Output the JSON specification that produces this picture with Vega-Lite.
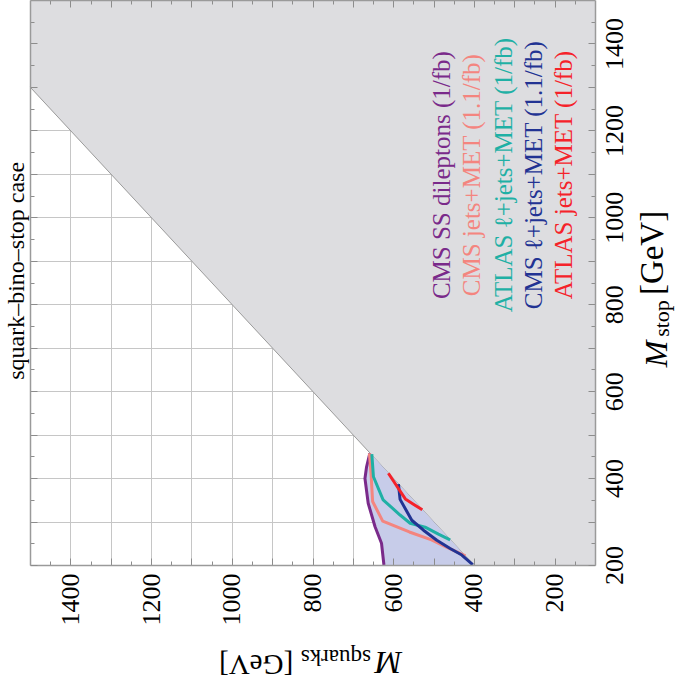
{
  "$schema": "https://vega.github.io/schema/vega-lite/v6.json",
  "width": 565,
  "height": 565,
  "autosize": "none",
  "padding": {"left": 30, "top": 0, "right": 81, "bottom": 125},
  "background": "white",
  "config": {"view": {"stroke": null}, "font": "Liberation Serif"},
  "resolve": {"axis": {"x": "independent", "y": "independent"}},
  "layer": [
    {
      "data": {"values": [
        {"m": 100, "lo": 200, "hi": 1500},
        {"m": 400, "lo": 200, "hi": 1500},
        {"m": 1500, "lo": 1300, "hi": 1500}
      ]},
      "mark": {"type": "area", "color": "#dddde0", "opacity": 1},
      "encoding": {
        "x": {"field": "m", "type": "quantitative",
              "scale": {"domain": [100, 1500], "reverse": true, "nice": false, "zero": false},
              "axis": {"orient": "bottom", "title": null, "labels": false, "ticks": false, "domain": false,
                       "grid": true, "gridColor": "#c6c6c6", "gridWidth": 1, "zindex": 0,
                       "values": [200,300,400,500,600,700,800,900,1000,1100,1200,1300,1400]}},
        "y": {"field": "lo", "type": "quantitative",
              "scale": {"domain": [200, 1500], "nice": false, "zero": false},
              "axis": {"orient": "right", "title": null, "labels": false, "ticks": false, "domain": false,
                       "grid": true, "gridColor": "#c6c6c6", "gridWidth": 1, "zindex": 0,
                       "values": [300,400,500,600,700,800,900,1000,1100,1200,1300,1400]}},
        "y2": {"field": "hi"}
      }
    },
    {
      "data": {"values": [{"m": 400, "s": 200}, {"m": 1500, "s": 1300}]},
      "mark": {"type": "line", "color": "#9a9a9a", "strokeWidth": 1},
      "encoding": {
        "x": {"field": "m", "type": "quantitative",
              "scale": {"domain": [100, 1500], "reverse": true, "nice": false, "zero": false},
              "axis": {"orient": "bottom", "title": null, "grid": false, "zindex": 1,
                       "values": [150,200,250,300,350,400,450,500,550,600,650,700,750,800,850,900,950,1000,1050,1100,1150,1200,1250,1300,1350,1400,1450],
                       "labelExpr": "datum.value % 200 === 0 ? '' + datum.value : ''",
                       "labelAngle": 270, "labelAlign": "right", "labelBaseline": "middle",
                       "labelFont": "Liberation Serif", "labelFontSize": 26, "labelColor": "black",
                       "labelPadding": 15, "labelOverlap": false, "labelFlush": false,
                       "tickSize": {"condition": {"test": "datum.value % 100 === 0", "value": -7}, "value": -4},
                       "tickColor": "#8c8c8c", "tickWidth": 1,
                       "domain": true, "domainColor": "#9a9a9a", "domainWidth": 1.5}},
        "y": {"field": "s", "type": "quantitative",
              "scale": {"domain": [200, 1500], "nice": false, "zero": false},
              "axis": {"orient": "right", "title": null, "grid": false, "zindex": 1,
                       "values": [200,250,300,350,400,450,500,550,600,650,700,750,800,850,900,950,1000,1050,1100,1150,1200,1250,1300,1350,1400,1450],
                       "labelExpr": "datum.value % 200 === 0 ? '' + datum.value : ''",
                       "labelAngle": 270, "labelAlign": "center", "labelBaseline": "top",
                       "labelFont": "Liberation Serif", "labelFontSize": 26, "labelColor": "black",
                       "labelPadding": 13, "labelOverlap": false, "labelFlush": false,
                       "tickSize": {"condition": {"test": "datum.value % 100 === 0", "value": -7}, "value": -4},
                       "tickColor": "#8c8c8c", "tickWidth": 1,
                       "domain": true, "domainColor": "#9a9a9a", "domainWidth": 1.5}}
      }
    },
    {
      "data": {"values": [
        {"s": 200, "mp": 623, "md": 400},
        {"s": 250, "mp": 629, "md": 450},
        {"s": 288, "mp": 645, "md": 488},
        {"s": 342, "mp": 662, "md": 542},
        {"s": 399, "mp": 670, "md": 599},
        {"s": 426, "mp": 666, "md": 626},
        {"s": 457, "mp": 658, "md": 657}
      ]},
      "mark": {"type": "area", "orient": "horizontal", "color": "#c7cce9", "opacity": 1},
      "encoding": {
        "y": {"field": "s", "type": "quantitative",
              "scale": {"domain": [200, 1500], "nice": false, "zero": false},
              "axis": {"orient": "left", "title": null, "grid": false, "labels": false, "zindex": 1,
                       "values": [200,250,300,350,400,450,500,550,600,650,700,750,800,850,900,950,1000,1050,1100,1150,1200,1250,1300,1350,1400,1450],
                       "tickSize": {"condition": {"test": "datum.value % 100 === 0", "value": -7}, "value": -4},
                       "tickColor": "#8c8c8c", "tickWidth": 1,
                       "domain": true, "domainColor": "#9a9a9a", "domainWidth": 1.5}},
        "x": {"field": "mp", "type": "quantitative",
              "scale": {"domain": [100, 1500], "reverse": true, "nice": false, "zero": false},
              "axis": {"orient": "top", "title": null, "grid": false, "labels": false, "zindex": 1,
                       "values": [150,200,250,300,350,400,450,500,550,600,650,700,750,800,850,900,950,1000,1050,1100,1150,1200,1250,1300,1350,1400,1450],
                       "tickSize": {"condition": {"test": "datum.value % 100 === 0", "value": -7}, "value": -4},
                       "tickColor": "#8c8c8c", "tickWidth": 1,
                       "domain": true, "domainColor": "#9a9a9a", "domainWidth": 1.5}},
        "x2": {"field": "md"}
      }
    },
    {
      "data": {"values": [
        {"series": "CMS SS dileptons (1/fb)", "i": 1, "m": 623, "s": 200},
        {"series": "CMS SS dileptons (1/fb)", "i": 2, "m": 629, "s": 250},
        {"series": "CMS SS dileptons (1/fb)", "i": 3, "m": 645, "s": 288},
        {"series": "CMS SS dileptons (1/fb)", "i": 4, "m": 662, "s": 342},
        {"series": "CMS SS dileptons (1/fb)", "i": 5, "m": 670, "s": 399},
        {"series": "CMS SS dileptons (1/fb)", "i": 6, "m": 666, "s": 426},
        {"series": "CMS SS dileptons (1/fb)", "i": 7, "m": 658, "s": 457},
        {"series": "CMS jets+MET (1.1/fb)", "i": 1, "m": 659, "s": 457},
        {"series": "CMS jets+MET (1.1/fb)", "i": 2, "m": 655, "s": 411},
        {"series": "CMS jets+MET (1.1/fb)", "i": 3, "m": 651, "s": 346},
        {"series": "CMS jets+MET (1.1/fb)", "i": 4, "m": 626, "s": 301},
        {"series": "CMS jets+MET (1.1/fb)", "i": 5, "m": 560, "s": 276},
        {"series": "CMS jets+MET (1.1/fb)", "i": 6, "m": 505, "s": 258},
        {"series": "CMS jets+MET (1.1/fb)", "i": 7, "m": 468, "s": 241},
        {"series": "CMS jets+MET (1.1/fb)", "i": 8, "m": 421, "s": 221},
        {"series": "ATLAS ℓ+jets+MET (1/fb)", "i": 1, "m": 653, "s": 455},
        {"series": "ATLAS ℓ+jets+MET (1/fb)", "i": 2, "m": 649, "s": 403},
        {"series": "ATLAS ℓ+jets+MET (1/fb)", "i": 3, "m": 625, "s": 350},
        {"series": "ATLAS ℓ+jets+MET (1/fb)", "i": 4, "m": 583, "s": 315},
        {"series": "ATLAS ℓ+jets+MET (1/fb)", "i": 5, "m": 558, "s": 296},
        {"series": "ATLAS ℓ+jets+MET (1/fb)", "i": 6, "m": 521, "s": 287},
        {"series": "ATLAS ℓ+jets+MET (1/fb)", "i": 7, "m": 488, "s": 271},
        {"series": "ATLAS ℓ+jets+MET (1/fb)", "i": 8, "m": 459, "s": 258},
        {"series": "CMS ℓ+jets+MET (1.1/fb)", "i": 1, "m": 587, "s": 386},
        {"series": "CMS ℓ+jets+MET (1.1/fb)", "i": 2, "m": 583, "s": 351},
        {"series": "CMS ℓ+jets+MET (1.1/fb)", "i": 3, "m": 554, "s": 303},
        {"series": "CMS ℓ+jets+MET (1.1/fb)", "i": 4, "m": 525, "s": 280},
        {"series": "CMS ℓ+jets+MET (1.1/fb)", "i": 5, "m": 492, "s": 257},
        {"series": "CMS ℓ+jets+MET (1.1/fb)", "i": 6, "m": 459, "s": 238},
        {"series": "CMS ℓ+jets+MET (1.1/fb)", "i": 7, "m": 430, "s": 223},
        {"series": "CMS ℓ+jets+MET (1.1/fb)", "i": 8, "m": 403, "s": 201},
        {"series": "ATLAS jets+MET (1/fb)", "i": 1, "m": 612, "s": 411},
        {"series": "ATLAS jets+MET (1/fb)", "i": 2, "m": 590, "s": 380},
        {"series": "ATLAS jets+MET (1/fb)", "i": 3, "m": 570, "s": 352},
        {"series": "ATLAS jets+MET (1/fb)", "i": 4, "m": 550, "s": 340},
        {"series": "ATLAS jets+MET (1/fb)", "i": 5, "m": 528, "s": 327}
      ]},
      "mark": {"type": "line", "strokeWidth": 3, "strokeJoin": "round"},
      "encoding": {
        "x": {"field": "m", "type": "quantitative", "axis": null,
              "scale": {"domain": [100, 1500], "reverse": true, "nice": false, "zero": false}},
        "y": {"field": "s", "type": "quantitative", "axis": null,
              "scale": {"domain": [200, 1500], "nice": false, "zero": false}},
        "order": {"field": "i", "type": "quantitative"},
        "color": {"field": "series", "type": "nominal", "legend": null,
                  "scale": {"domain": ["CMS SS dileptons (1/fb)", "CMS jets+MET (1.1/fb)", "ATLAS ℓ+jets+MET (1/fb)", "CMS ℓ+jets+MET (1.1/fb)", "ATLAS jets+MET (1/fb)"],
                            "range": ["#7a2a8a", "#f4857f", "#1fb0a5", "#223393", "#f5222a"]}}
      }
    },
    {
      "data": {"values": [
        {"series": "CMS SS dileptons (1/fb)", "m": 480, "s": 1097},
        {"series": "CMS jets+MET (1.1/fb)", "m": 405, "s": 1097},
        {"series": "ATLAS ℓ+jets+MET (1/fb)", "m": 325, "s": 1097},
        {"series": "CMS ℓ+jets+MET (1.1/fb)", "m": 250, "s": 1097},
        {"series": "ATLAS jets+MET (1/fb)", "m": 176, "s": 1097}
      ]},
      "mark": {"type": "text", "angle": 270, "align": "center", "baseline": "middle", "font": "Liberation Serif", "fontSize": 25},
      "encoding": {
        "x": {"field": "m", "type": "quantitative", "axis": null},
        "y": {"field": "s", "type": "quantitative", "axis": null},
        "text": {"field": "series"},
        "color": {"field": "series", "type": "nominal", "legend": null}
      }
    },
    {
      "data": {"values": [{"label": "squark–bino–stop case", "m": 1515, "s": 626}]},
      "mark": {"type": "text", "angle": 270, "align": "left", "baseline": "alphabetic", "font": "Liberation Serif", "fontSize": 24, "color": "black"},
      "encoding": {
        "x": {"field": "m", "type": "quantitative", "axis": null},
        "y": {"field": "s", "type": "quantitative", "axis": null},
        "text": {"field": "label"}
      }
    },
    {
      "data": {"values": [{"label": "M", "m": -78, "s": 655}]},
      "mark": {"type": "text", "angle": 270, "align": "left", "baseline": "alphabetic", "font": "Liberation Serif", "fontStyle": "italic", "fontSize": 32, "color": "black"},
      "encoding": {"x": {"field": "m", "type": "quantitative", "axis": null}, "y": {"field": "s", "type": "quantitative", "axis": null}, "text": {"field": "label"}}
    },
    {
      "data": {"values": [{"label": "stop", "m": -84, "s": 725}]},
      "mark": {"type": "text", "angle": 270, "align": "left", "baseline": "alphabetic", "font": "Liberation Serif", "fontSize": 22, "color": "black"},
      "encoding": {"x": {"field": "m", "type": "quantitative", "axis": null}, "y": {"field": "s", "type": "quantitative", "axis": null}, "text": {"field": "label"}}
    },
    {
      "data": {"values": [{"label": "[GeV]", "m": -68, "s": 821}]},
      "mark": {"type": "text", "angle": 270, "align": "left", "baseline": "alphabetic", "font": "Liberation Serif", "fontSize": 33, "color": "black"},
      "encoding": {"x": {"field": "m", "type": "quantitative", "axis": null}, "y": {"field": "s", "type": "quantitative", "axis": null}, "text": {"field": "label"}}
    },
    {
      "data": {"values": [{"label": "M", "m": 578, "s": 0}]},
      "mark": {"type": "text", "angle": 180, "align": "left", "baseline": "alphabetic", "font": "Liberation Serif", "fontStyle": "italic", "fontSize": 32, "color": "black"},
      "encoding": {"x": {"field": "m", "type": "quantitative", "axis": null}, "y": {"field": "s", "type": "quantitative", "axis": null}, "text": {"field": "label"}}
    },
    {
      "data": {"values": [{"label": "squarks", "m": 655, "s": 5}]},
      "mark": {"type": "text", "angle": 180, "align": "left", "baseline": "alphabetic", "font": "Liberation Serif", "fontSize": 23, "color": "black"},
      "encoding": {"x": {"field": "m", "type": "quantitative", "axis": null}, "y": {"field": "s", "type": "quantitative", "axis": null}, "text": {"field": "label"}}
    },
    {
      "data": {"values": [{"label": "[GeV]", "m": 848, "s": -6}]},
      "mark": {"type": "text", "angle": 180, "align": "left", "baseline": "alphabetic", "font": "Liberation Serif", "fontSize": 29, "color": "black"},
      "encoding": {"x": {"field": "m", "type": "quantitative", "axis": null}, "y": {"field": "s", "type": "quantitative", "axis": null}, "text": {"field": "label"}}
    }
  ]
}
